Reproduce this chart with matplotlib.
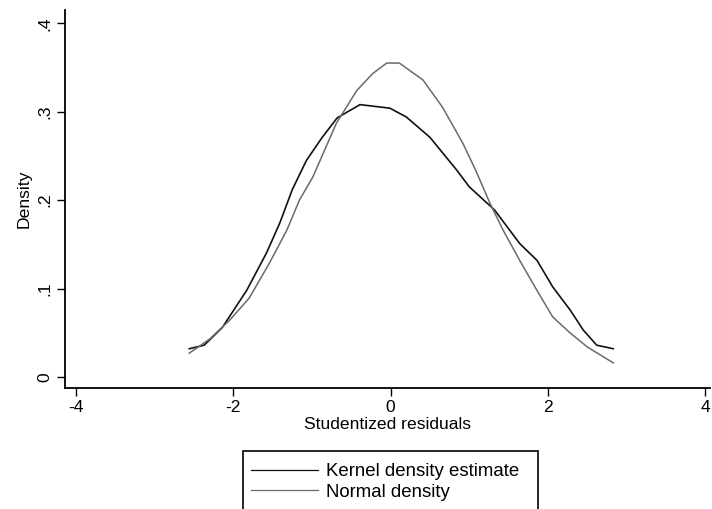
import matplotlib
matplotlib.use("Agg")
import matplotlib.pyplot as plt
from matplotlib.patches import Rectangle

plt.rcParams['font.family'] = ['Liberation Sans', 'DejaVu Sans']

# Kernel density estimate
kde_x = [-2.56, -2.37, -2.14, -1.83, -1.58, -1.41, -1.25, -1.07, -0.87, -0.68,
         -0.39, -0.01, 0.20, 0.50, 0.84, 1.00, 1.32, 1.64, 1.86, 2.06,
         2.28, 2.45, 2.62, 2.83]
kde_y = [0.032, 0.036, 0.056, 0.098, 0.140, 0.174, 0.212, 0.245, 0.271, 0.293,
         0.308, 0.304, 0.294, 0.271, 0.234, 0.215, 0.189, 0.151, 0.132, 0.102,
         0.076, 0.053, 0.036, 0.032]

# Normal density
norm_x = [-2.56, -2.30, -2.05, -1.80, -1.54, -1.32, -1.16, -0.99, -0.69, -0.43,
          -0.23, -0.05, 0.11, 0.41, 0.66, 0.92, 1.09, 1.26, 1.43, 1.64,
          1.86, 2.06, 2.28, 2.50, 2.83]
norm_y = [0.027, 0.043, 0.064, 0.089, 0.129, 0.166, 0.200, 0.226, 0.287, 0.324,
          0.343, 0.355, 0.355, 0.336, 0.305, 0.264, 0.232, 0.197, 0.166, 0.132,
          0.098, 0.068, 0.050, 0.034, 0.016]

x_ticks = [-4, -2, 0, 2, 4]
x_tick_labels = ['-4', '-2', '0', '2', '4']
y_ticks = [0, 0.1, 0.2, 0.3, 0.4]
y_tick_labels = ['0', '.1', '.2', '.3', '.4']

fig = plt.figure(figsize=(7.12, 5.09), dpi=100)
W, H = 712, 509
left, right, top, bottom = 65, 710, 10, 388
ax = fig.add_axes([left / W, 1 - bottom / H, (right - left) / W, (bottom - top) / H])

ax.plot(kde_x, kde_y, color='#111111', lw=1.2, label='Kernel density estimate')
ax.plot(norm_x, norm_y, color='#6a6a6a', lw=1.1, label='Normal density')

ax.set_xlim(-4.14, 4.06)
ax.set_ylim(-0.0124, 0.415)
ax.set_xticks(x_ticks)
ax.set_xticklabels(x_tick_labels, fontsize=12.6)
ax.set_yticks(y_ticks)
ax.set_yticklabels(y_tick_labels, fontsize=12.6, rotation=90, va='center')
ax.tick_params(direction='out', length=6, width=1.0, color='black', pad=3)
for s in ['top', 'right']:
    ax.spines[s].set_visible(False)
for s in ['left', 'bottom']:
    ax.spines[s].set_linewidth(1.3)
ax.set_xlabel('Studentized residuals', fontsize=12.6, labelpad=1)
ax.set_ylabel('Density', fontsize=12.6, labelpad=4)

leg = ax.legend(loc='center left', bbox_to_anchor=(251 / W, 1 - 482 / H),
                bbox_transform=fig.transFigure, fontsize=13.4, frameon=False,
                handlelength=3.6, borderpad=0, labelspacing=0.2,
                handletextpad=0.45, borderaxespad=0)
for line in leg.get_lines():
    line.set_linewidth(0.9)

fig.patches.append(Rectangle((243 / W, -0.05), (538 - 243) / W, (1 - 451 / H) + 0.05,
                             transform=fig.transFigure, fill=False,
                             edgecolor='black', lw=1.2))

fig.savefig('out.png', dpi=100)
